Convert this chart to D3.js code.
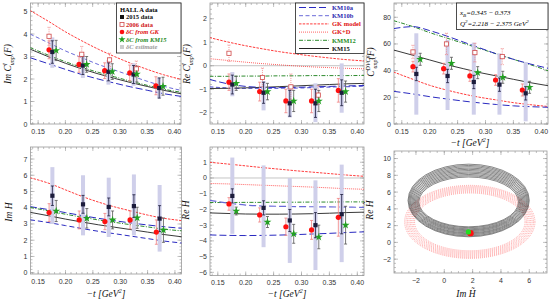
<!DOCTYPE html>
<html>
<head>
<meta charset="UTF-8">
<script src="https://d3js.org/d3.v7.min.js"></script>
<style>
  body { margin: 0; background: #fff; }
  svg { display: block; }
  .tl { font-family: "Liberation Sans", Arial, sans-serif; font-size: 7px; fill: #333; }
  .at { font-family: "Liberation Serif", "Times New Roman", serif; font-style: italic; font-size: 9.5px; fill: #111; }
  .leg { font-family: "Liberation Serif", "Times New Roman", serif; font-weight: bold; font-size: 6.5px; }
  .box { font-family: "Liberation Serif", "Times New Roman", serif; font-style: italic; font-size: 7px; }
</style>
</head>
<body>
<svg width="553" height="302"></svg>
<script>
// -t positions of the points
const t2015 = [0.176, 0.232, 0.279, 0.325, 0.372];
const tGK   = [0.170, 0.225, 0.272, 0.318, 0.366];
const tKM   = [0.183, 0.239, 0.286, 0.331, 0.379];
const t2006 = [0.170, 0.230, 0.281, 0.330];
const tCurve = [0.135, 0.17, 0.20, 0.23, 0.26, 0.29, 0.32, 0.35, 0.38, 0.415];

// Im C^I
const imC2015 = [3.2, 2.6, 2.32, 2.2, 1.6];
const imC2015Err = [0.5, 0.4, 0.4, 0.4, 0.45];
const imCBandLo = [2.5, 2.05, 1.75, 1.7, 1.15];
const imCBandHi = [3.85, 3.1, 2.85, 2.7, 2.05];
const imCGK = [3.3, 2.65, 2.37, 2.27, 1.7];
const imCGKErr = [0.4, 0.35, 0.35, 0.35, 0.4];
const imCKM = [3.27, 2.65, 2.33, 2.22, 1.68];
const imCKMErr = [0.45, 0.35, 0.35, 0.35, 0.4];
const imC2006 = [3.9, 3.1, 2.85, 2.45];
const imC2006Err = [0.4, 0.35, 0.3, 0.35];
const imCCurveGK   = [5.05, 4.55, 4.1, 3.7, 3.33, 3.0, 2.7, 2.43, 2.19, 1.97];
const imCCurveKM10b = [4.0, 3.6, 3.25, 2.95, 2.65, 2.4, 2.15, 1.9, 1.68, 1.48];
const imCCurveKMM12 = [3.4, 3.05, 2.77, 2.52, 2.3, 2.1, 1.9, 1.72, 1.55, 1.4];
const imCCurveKM15 = [3.33, 2.98, 2.7, 2.45, 2.23, 2.03, 1.84, 1.67, 1.5, 1.33];
const imCCurveKM10a = [2.95, 2.67, 2.43, 2.2, 2.0, 1.82, 1.65, 1.5, 1.35, 1.22];

// Re C^I
const reC2015 = [-0.8, -1.15, -1.6, -1.6, -1.15];
const reC2015Err = [0.4, 0.45, 0.55, 0.6, 0.55];
const reCBandLo = [-1.3, -1.9, -2.2, -2.4, -2.0];
const reCBandHi = [-0.27, -0.65, -0.83, -0.75, 0.1];
const reCGK = [-0.7, -1.1, -1.5, -1.5, -1.05];
const reCGKErr = [0.35, 0.4, 0.5, 0.5, 0.5];
const reCKM = [-0.75, -1.1, -1.5, -1.5, -1.1];
const reCKMErr = [0.3, 0.35, 0.45, 0.45, 0.45];
const reC2006 = [0.53, -0.5, -0.9, -1.25];
const reC2006Err = [0.35, 0.4, 0.55, 0.4];
const reCCurveGK   = [1.2, 1.0, 0.85, 0.72, 0.6, 0.5, 0.41, 0.33, 0.26, 0.2];
const reCCurveGKD  = [0.3, 0.22, 0.15, 0.09, 0.04, -0.01, -0.05, -0.08, -0.11, -0.13];
const reCCurveKMM12 = [-0.45, -0.45, -0.44, -0.44, -0.43, -0.43, -0.42, -0.42, -0.42, -0.41];
const reCCurveKM15 = [-0.97, -0.96, -0.94, -0.92, -0.89, -0.86, -0.83, -0.8, -0.77, -0.75];
const reCCurveKM10a = [-0.58, -0.78, -0.88, -0.92, -0.93, -0.92, -0.9, -0.88, -0.86, -0.84];
const reCCurveKM10b = [-0.9, -0.95, -0.97, -0.97, -0.96, -0.95, -0.93, -0.91, -0.89, -0.87];

// C^DVCS
const dv2015 = [37.5, 36, 31.5, 29.5, 23];
const dv2015Err = [5, 5, 5, 5, 5];
const dvBandLo = [7, 10.5, 7, 7, 2];
const dvBandHi = [68, 63, 61, 53, 46.5];
const dvGK = [43, 41.5, 36, 33, 25.5];
const dvGKErr = [4, 4, 4, 4, 4.5];
const dvKM = [48.5, 45.5, 38.5, 35, 27.5];
const dvKMErr = [4.5, 4.5, 4.5, 4.5, 4.5];
const dv2006 = [54, 60, 53.5, 50.5];
const dv2006Err = [5, 8, 7, 6];
const dvCurveKMM12 = [77.5, 73, 68.5, 64.5, 60.5, 56.5, 52.5, 48.5, 44.5, 39.5];
const dvCurveKM10b = [71.5, 73, 70, 66, 61.5, 57, 52.5, 48.5, 45, 41.5];
const dvCurveKM15 = [55.5, 51.5, 48, 44.5, 41.5, 38.5, 36, 33.5, 31, 28.5];
const dvCurveGK = [39, 33.5, 29, 25.5, 22.5, 20, 18, 16, 14.5, 13];
const dvCurveKM10a = [24.5, 22.5, 20.5, 18.8, 17.2, 15.8, 14.6, 13.6, 13, 12.5];

// Im H
const imH2015 = [4.74, 4.21, 4.05, 4.1, 3.33];
const imH2015Err = [0.6, 0.55, 0.55, 0.7, 0.8];
const imHBandLo = [3.0, 2.3, 2.2, 2.3, 1.3];
const imHBandHi = [6.5, 6.0, 5.85, 6.05, 5.4];
const imHGK = [3.7, 3.25, 3.15, 3.25, 2.5];
const imHGKErr = [0.55, 0.55, 0.5, 0.55, 0.75];
const imHKM = [3.8, 3.35, 3.25, 3.38, 2.62];
const imHKMErr = [0.65, 0.6, 0.55, 0.65, 0.75];
const imHCurveGK = [5.85, 5.5, 5.1, 4.7, 4.35, 4.05, 3.8, 3.55, 3.35, 3.2];
const imHCurveKM10b = [4.07, 3.88, 3.7, 3.52, 3.35, 3.2, 3.06, 2.94, 2.83, 2.73];
const imHCurveKMM12 = [4.02, 3.8, 3.6, 3.42, 3.25, 3.1, 2.95, 2.82, 2.68, 2.57];
const imHCurveKM15 = [3.72, 3.5, 3.3, 3.12, 2.95, 2.8, 2.65, 2.5, 2.35, 2.2];
const imHCurveKM10a = [3.26, 3.08, 2.9, 2.72, 2.55, 2.4, 2.25, 2.1, 1.95, 1.82];

// Re H
const reH2015 = [-1.14, -1.9, -2.7, -3.0, -2.3];
const reH2015Err = [0.45, 0.45, 0.7, 0.8, 1.25];
const reHBandLo = [-3.55, -4.4, -5.4, -5.85, -5.35];
const reHBandHi = [1.3, 0.8, 0.0, -0.15, 0.85];
const reHGK = [-1.65, -2.35, -3.1, -3.3, -2.5];
const reHGKErr = [0.4, 0.45, 0.55, 0.6, 1.2];
const reHKM = [-2.1, -2.8, -3.55, -3.75, -3.0];
const reHKMErr = [0.25, 0.35, 0.6, 0.75, 1.2];
const reHCurveGK = [1.0, 0.88, 0.77, 0.66, 0.56, 0.46, 0.37, 0.28, 0.19, 0.1];
const reHCurveGKD = [-0.35, -0.38, -0.42, -0.46, -0.5, -0.54, -0.58, -0.63, -0.68, -0.72];
const reHCurveKMM12 = [-1.56, -1.56, -1.55, -1.55, -1.54, -1.54, -1.53, -1.53, -1.52, -1.52];
const reHCurveKM10b = [-1.42, -1.6, -1.72, -1.78, -1.8, -1.82, -1.83, -1.84, -1.85, -1.87];
const reHCurveKM15 = [-2.22, -2.26, -2.29, -2.3, -2.3, -2.29, -2.27, -2.24, -2.2, -2.17];
const reHCurveKM10a = [-3.62, -3.65, -3.66, -3.65, -3.63, -3.6, -3.56, -3.52, -3.47, -3.42];

// Im Ht / Re Ht rings
const blackRingCx = 1.72;
const blackRingCy = [4.83, 4.85, 4.86, 4.88, 4.9, 4.92, 4.93, 4.95, 4.97, 4.98, 5.0];
const blackRingRx = [3.52, 3.6, 3.68, 3.76, 3.84, 3.92, 4.0, 4.08, 4.15, 4.22, 4.28];
const blackRingRy = [2.97, 3.1, 3.24, 3.38, 3.51, 3.65, 3.79, 3.92, 4.06, 4.2, 4.33];
const redRingCx = 1.8, redRingCy = 2.45;
const redRingRx = [3.9, 4.0, 4.1, 4.2, 4.3, 4.4, 4.5, 4.6];
const redRingRy = [3.45, 3.58, 3.71, 3.84, 3.97, 4.1, 4.23, 4.35];
const htGK = [1.85, 1.1];
const htKM = [1.7, 1.25];

const C = {
  red: "#ff3b3b", blueA: "#2a2ac0", blueB: "#6a6ad8", green: "#2e8b2e", black: "#222",
  lav: "#cfcfea", sq: "#1c1c3c", gkDot: "#ff1010", gkErr: "#f08080", star: "#22a022", starErr: "#555",
  old: "#d04a4a"
};

const svg = d3.select("svg");
let clipN = 0;

function makePanel(p) {
  const x = d3.scaleLinear().domain(p.xd).range([p.left, p.right]);
  const y = d3.scaleLinear().domain(p.yd).range([p.bottom, p.top]);
  const g = svg.append("g");
  const id = "clip" + (clipN++);
  svg.append("clipPath").attr("id", id).append("rect")
    .attr("x", p.left).attr("y", p.top)
    .attr("width", p.right - p.left).attr("height", p.bottom - p.top);
  const tk = g.append("g").attr("stroke", "#999").attr("stroke-width", 0.6);
  const inX = v => v >= p.xd[0] && v <= p.xd[1];
  const inY = v => v >= p.yd[0] && v <= p.yd[1];
  p.xMinor.filter(inX).forEach(v => {
    tk.append("line").attr("x1", x(v)).attr("x2", x(v)).attr("y1", p.bottom).attr("y2", p.bottom - 2);
    tk.append("line").attr("x1", x(v)).attr("x2", x(v)).attr("y1", p.top).attr("y2", p.top + 2);
  });
  p.yMinor.filter(inY).forEach(v => {
    tk.append("line").attr("y1", y(v)).attr("y2", y(v)).attr("x1", p.left).attr("x2", p.left + 2);
    tk.append("line").attr("y1", y(v)).attr("y2", y(v)).attr("x1", p.right).attr("x2", p.right - 2);
  });
  p.xMajor.forEach(v => {
    tk.append("line").attr("x1", x(v)).attr("x2", x(v)).attr("y1", p.bottom).attr("y2", p.bottom - 4);
    tk.append("line").attr("x1", x(v)).attr("x2", x(v)).attr("y1", p.top).attr("y2", p.top + 4);
    g.append("text").attr("class", "tl").attr("x", x(v)).attr("y", p.bottom + 9.5)
      .attr("text-anchor", "middle").text(p.xf(v));
  });
  p.yMajor.forEach(v => {
    tk.append("line").attr("y1", y(v)).attr("y2", y(v)).attr("x1", p.left).attr("x2", p.left + 4);
    tk.append("line").attr("y1", y(v)).attr("y2", y(v)).attr("x1", p.right).attr("x2", p.right - 4);
    g.append("text").attr("class", "tl").attr("x", p.left - 3).attr("y", y(v) + 2.5)
      .attr("text-anchor", "end").text(p.yf(v));
  });
  g.append("rect").attr("x", p.left).attr("y", p.top)
    .attr("width", p.right - p.left).attr("height", p.bottom - p.top)
    .attr("fill", "none").attr("stroke", "#999").attr("stroke-width", 0.8);
  const plot = g.append("g").attr("clip-path", `url(#${id})`);
  return { x, y, g, plot, p };
}

function curve(P, vals, color, dash, w) {
  const line = d3.line().x((d, i) => P.x(tCurve[i])).y(d => P.y(d)).curve(d3.curveMonotoneX);
  P.plot.append("path").datum(vals).attr("d", line).attr("fill", "none")
    .attr("stroke", color).attr("stroke-width", w || 1).attr("stroke-dasharray", dash || null);
}

function zeroLine(P) {
  P.plot.append("line").attr("x1", P.p.left).attr("x2", P.p.right)
    .attr("y1", P.y(0)).attr("y2", P.y(0)).attr("stroke", "#aaa").attr("stroke-width", 0.7);
}

function bands(P, ts, lo, hi) {
  P.plot.selectAll(null).data(ts).join("rect")
    .attr("x", d => P.x(d) - 2).attr("width", 4)
    .attr("y", (d, i) => P.y(hi[i])).attr("height", (d, i) => P.y(lo[i]) - P.y(hi[i]))
    .attr("fill", C.lav);
}

function errBars(P, ts, v, e, color, dash) {
  const g = P.plot.append("g").attr("stroke", color).attr("stroke-width", 0.8)
    .attr("stroke-dasharray", dash || null);
  ts.forEach((t, i) => {
    const xx = P.x(t), a = P.y(v[i] + e[i]), b = P.y(v[i] - e[i]);
    g.append("line").attr("x1", xx).attr("x2", xx).attr("y1", a).attr("y2", b);
    g.append("line").attr("x1", xx - 1.5).attr("x2", xx + 1.5).attr("y1", a).attr("y2", a).attr("stroke-dasharray", null);
    g.append("line").attr("x1", xx - 1.5).attr("x2", xx + 1.5).attr("y1", b).attr("y2", b).attr("stroke-dasharray", null);
  });
}

function squares(P, ts, v, fill, stroke, s) {
  P.plot.selectAll(null).data(ts).join("rect")
    .attr("x", d => P.x(d) - s / 2).attr("y", (d, i) => P.y(v[i]) - s / 2)
    .attr("width", s).attr("height", s)
    .attr("fill", fill).attr("stroke", stroke).attr("stroke-width", stroke ? 0.8 : 0);
}

function dots(P, ts, v) {
  P.plot.selectAll(null).data(ts).join("circle")
    .attr("cx", d => P.x(d)).attr("cy", (d, i) => P.y(v[i])).attr("r", 2.6).attr("fill", C.gkDot);
}

function stars(P, ts, v) {
  const sym = d3.symbol(d3.symbolStar).size(20)();
  P.plot.selectAll(null).data(ts).join("path")
    .attr("d", sym).attr("transform", (d, i) => `translate(${P.x(d)},${P.y(v[i])})`)
    .attr("fill", C.star);
}

function dataSet(P, d) {
  bands(P, t2015, d.lo, d.hi);
  if (d.old) errBars(P, t2006, d.old, d.oldErr, C.gkErr, "1,1");
  errBars(P, tGK, d.gk, d.gkErr, C.gkErr);
  errBars(P, tKM, d.km, d.kmErr, C.starErr);
  errBars(P, t2015, d.v, d.err, C.sq);
  if (d.old) squares(P, t2006, d.old, "#fff", C.old, 4.2);
  dots(P, tGK, d.gk);
  squares(P, t2015, d.v, C.sq, null, 4.2);
  stars(P, tKM, d.km);
}

function yTitle(x, y, build) {
  const t = svg.append("text").attr("class", "at")
    .attr("transform", `translate(${x},${y}) rotate(-90)`).attr("text-anchor", "middle");
  build(t);
}
function xTitle(x, y) {
  const t = svg.append("text").attr("class", "at").attr("x", x).attr("y", y).attr("text-anchor", "middle");
  t.append("tspan").text("\u2212t [GeV");
  t.append("tspan").attr("dy", -4).attr("font-size", 6.5).text("2");
  t.append("tspan").attr("dy", 4).text("]");
}
function cTitle(t, pre, sup) {
  t.append("tspan").text(pre);
  t.append("tspan").attr("dy", -4).attr("font-size", 6).text(sup);
  t.append("tspan").attr("dx", sup.length > 1 ? -13 : -2).attr("dy", 7).attr("font-size", 6).text("unp");
  t.append("tspan").attr("dy", -3).text("(F)");
}

const tFmt = d3.format(".2f");
const xMajor = [0.15, 0.20, 0.25, 0.30, 0.35, 0.40];
const xMinor = d3.range(0.13, 0.42, 0.01);
const xd = [0.136, 0.412];

// Panel 1
const P1 = makePanel({ left: 30.5, right: 181, top: 3, bottom: 124, xd, yd: [0, 5.38],
  xMajor, xMinor, yMajor: d3.range(0, 6, 1), yMinor: d3.range(0, 5.4, 0.2), xf: tFmt, yf: d3.format("d") });
curve(P1, imCCurveGK, C.red, "2.5,1.2");
curve(P1, imCCurveKM10b, C.blueB, "4,2.5");
curve(P1, imCCurveKMM12, C.green, "4,1.5,1,1.5");
curve(P1, imCCurveKM15, C.black, null, 0.9);
curve(P1, imCCurveKM10a, C.blueA, "7,3");
dataSet(P1, { v: imC2015, err: imC2015Err, lo: imCBandLo, hi: imCBandHi, gk: imCGK, gkErr: imCGKErr,
  km: imCKM, kmErr: imCKMErr, old: imC2006, oldErr: imC2006Err });
yTitle(11, 64, t => cTitle(t, "Im C", "I"));

// Panel 2
const P2 = makePanel({ left: 210, right: 364, top: 3, bottom: 124, xd, yd: [-2.48, 2.67],
  xMajor, xMinor, yMajor: d3.range(-2, 3, 1), yMinor: d3.range(-2.4, 2.7, 0.2), xf: tFmt, yf: d3.format("d") });
zeroLine(P2);
curve(P2, reCCurveGK, C.red, "2.5,1.2");
curve(P2, reCCurveGKD, C.red, "0.8,1.2");
curve(P2, reCCurveKMM12, C.green, "4,1.5,1,1.5");
curve(P2, reCCurveKM10b, C.blueB, "4,2.5", 1.2);
curve(P2, reCCurveKM15, C.black, null, 0.9);
curve(P2, reCCurveKM10a, C.blueA, "7,3");
dataSet(P2, { v: reC2015, err: reC2015Err, lo: reCBandLo, hi: reCBandHi, gk: reCGK, gkErr: reCGKErr,
  km: reCKM, kmErr: reCKMErr, old: reC2006, oldErr: reC2006Err });
yTitle(190, 64, t => cTitle(t, "Re C", "I"));

// Panel 3
const P3 = makePanel({ left: 394, right: 548, top: 3, bottom: 124, xd, yd: [0, 90.7],
  xMajor, xMinor, yMajor: d3.range(0, 81, 20), yMinor: d3.range(0, 91, 5), xf: tFmt, yf: d3.format("d") });
curve(P3, dvCurveKMM12, C.green, "4,1.5,1,1.5");
curve(P3, dvCurveKM10b, C.blueA, "7,3");
curve(P3, dvCurveKM15, C.black, null, 0.9);
curve(P3, dvCurveGK, C.red, "2.5,1.2");
curve(P3, dvCurveKM10a, C.blueA, "7,3");
dataSet(P3, { v: dv2015, err: dv2015Err, lo: dvBandLo, hi: dvBandHi, gk: dvGK, gkErr: dvGKErr,
  km: dvKM, kmErr: dvKMErr, old: dv2006, oldErr: dv2006Err });
yTitle(374, 62, t => cTitle(t, "C", "DVCS"));
xTitle(470, 146);

// Panel 4
const P4 = makePanel({ left: 30.5, right: 181.5, top: 147, bottom: 274, xd, yd: [-0.08, 7.74],
  xMajor, xMinor, yMajor: d3.range(0, 8, 1), yMinor: d3.range(0, 7.8, 0.2), xf: tFmt, yf: d3.format("d") });
curve(P4, imHCurveGK, C.red, "2.5,1.2");
curve(P4, imHCurveKM10b, C.blueA, "7,3");
curve(P4, imHCurveKMM12, C.green, "4,1.5,1,1.5");
curve(P4, imHCurveKM15, C.black, null, 0.9);
curve(P4, imHCurveKM10a, C.blueA, "5,3");
dataSet(P4, { v: imH2015, err: imH2015Err, lo: imHBandLo, hi: imHBandHi, gk: imHGK, gkErr: imHGKErr,
  km: imHKM, kmErr: imHKMErr });
yTitle(12, 212, t => t.text("Im H"));
xTitle(106, 297);

// Panel 5
const P5 = makePanel({ left: 210, right: 364, top: 147, bottom: 275.5, xd, yd: [-6.2, 1.97],
  xMajor, xMinor, yMajor: d3.range(-6, 2, 1), yMinor: d3.range(-6.2, 2, 0.2), xf: tFmt, yf: d3.format("d") });
zeroLine(P5);
curve(P5, reHCurveGK, C.red, "2.5,1.2");
curve(P5, reHCurveGKD, C.red, "0.8,1.2");
curve(P5, reHCurveKMM12, C.green, "4,1.5,1,1.5");
curve(P5, reHCurveKM10b, C.blueB, "7,3", 1.2);
curve(P5, reHCurveKM15, C.black, null, 0.9);
curve(P5, reHCurveKM10a, C.blueA, "7,3");
dataSet(P5, { v: reH2015, err: reH2015Err, lo: reHBandLo, hi: reHBandHi, gk: reHGK, gkErr: reHGKErr,
  km: reHKM, kmErr: reHKMErr });
yTitle(189, 210, t => t.text("Re H"));
xTitle(287, 297);

// Panel 6
const P6 = makePanel({ left: 394, right: 547, top: 151, bottom: 273, xd: [-3.55, 7.25], yd: [-3.65, 10.9],
  xMajor: d3.range(-2, 7, 2), xMinor: d3.range(-3.5, 7.3, 0.5), yMajor: d3.range(-2, 11, 2),
  yMinor: d3.range(-3.5, 11, 0.5), xf: d3.format("d"), yf: d3.format("d") });
P6.plot.selectAll(null).data(redRingRx).join("ellipse")
  .attr("cx", P6.x(redRingCx)).attr("cy", P6.y(redRingCy))
  .attr("rx", d => P6.x(redRingCx + d) - P6.x(redRingCx))
  .attr("ry", (d, i) => P6.y(redRingCy) - P6.y(redRingCy + redRingRy[i]))
  .attr("fill", "none").attr("stroke", "#ff5a5a").attr("stroke-width", 0.7)
  .attr("stroke-dasharray", "1,1").attr("opacity", 0.75);
P6.plot.selectAll(null).data(blackRingRx).join("ellipse")
  .attr("cx", P6.x(blackRingCx)).attr("cy", (d, i) => P6.y(blackRingCy[i]))
  .attr("rx", d => P6.x(blackRingCx + d) - P6.x(blackRingCx))
  .attr("ry", (d, i) => P6.y(blackRingCy[i]) - P6.y(blackRingCy[i] + blackRingRy[i]))
  .attr("fill", "none").attr("stroke", "#111").attr("stroke-width", 0.6).attr("opacity", 0.85);
P6.plot.append("circle").attr("cx", P6.x(htGK[0])).attr("cy", P6.y(htGK[1])).attr("r", 3.2).attr("fill", "#ff1010");
P6.plot.append("circle").attr("cx", P6.x(htKM[0])).attr("cy", P6.y(htKM[1])).attr("r", 2.6).attr("fill", "#22dd22");
yTitle(373, 210, t => t.text("Re H\u0303"));
svg.append("text").attr("class", "at").attr("x", 466).attr("y", 297).attr("text-anchor", "middle").text("Im H\u0303");

// Legend 1
const L1 = svg.append("g");
L1.append("rect").attr("x", 116.5).attr("y", 3).attr("width", 64.5).attr("height", 50)
  .attr("fill", "#fff").attr("stroke", "#222").attr("stroke-width", 0.8);
const leg1 = [
  { label: "2015 data", color: "#111", m: "sq" },
  { label: "2006 data", color: "#d02020", m: "osq" },
  { label: "\u03b4C from GK", color: "#e01010", m: "dot" },
  { label: "\u03b4C from KM15", color: "#1d8a1d", m: "star" },
  { label: "\u03b4C estimate", color: "#999", m: "gray" }
];
L1.append("text").attr("class", "leg").attr("x", 120).attr("y", 12).attr("font-size", 7).text("HALL A data");
leg1.forEach((d, i) => {
  const yy = 17 + i * 7.5, xx = 122;
  if (d.m === "sq") L1.append("rect").attr("x", xx - 2).attr("y", yy - 2).attr("width", 4).attr("height", 4).attr("fill", "#111");
  if (d.m === "osq") L1.append("rect").attr("x", xx - 2).attr("y", yy - 2).attr("width", 4).attr("height", 4).attr("fill", "#fff").attr("stroke", C.old).attr("stroke-width", 0.8);
  if (d.m === "dot") L1.append("circle").attr("cx", xx).attr("cy", yy).attr("r", 2.3).attr("fill", C.gkDot);
  if (d.m === "star") L1.append("path").attr("d", d3.symbol(d3.symbolStar).size(16)()).attr("transform", `translate(${xx},${yy})`).attr("fill", C.star);
  if (d.m === "gray") L1.append("rect").attr("x", xx - 2).attr("y", yy - 2).attr("width", 4).attr("height", 4).attr("fill", "#ccc");
  L1.append("text").attr("class", "leg").attr("x", 126).attr("y", yy + 2.3).attr("fill", d.color)
    .attr("font-style", i >= 2 ? "italic" : null).text(d.label);
});

// Legend 2
const L2 = svg.append("g");
L2.append("rect").attr("x", 295.5).attr("y", 3).attr("width", 68.5).attr("height", 50.5)
  .attr("fill", "#fff").attr("stroke", "#222").attr("stroke-width", 0.8);
const leg2 = [
  { label: "KM10a", stroke: C.blueA, dash: "7,3", tc: "#2a2ab0" },
  { label: "KM10b", stroke: C.blueB, dash: "4,2.5", tc: "#2a2ab0" },
  { label: "GK model", stroke: C.red, dash: "2.5,1.2", tc: "#e01010" },
  { label: "GK+D", stroke: C.red, dash: "0.8,1.2", tc: "#e01010" },
  { label: "KMM12", stroke: C.green, dash: "4,1.5,1,1.5", tc: "#1d8a1d" },
  { label: "KM15", stroke: C.black, dash: null, tc: "#111" }
];
leg2.forEach((d, i) => {
  const yy = 7.5 + i * 8.2;
  L2.append("line").attr("x1", 299).attr("x2", 329).attr("y1", yy).attr("y2", yy)
    .attr("stroke", d.stroke).attr("stroke-width", 1).attr("stroke-dasharray", d.dash);
  L2.append("text").attr("class", "leg").attr("x", 332).attr("y", yy + 2.3).attr("fill", d.tc).text(d.label);
});

// Kinematics box
const K = svg.append("g");
K.append("rect").attr("x", 456.5).attr("y", 3).attr("width", 91.5).attr("height", 26.5)
  .attr("fill", "#fff").attr("stroke", "#222").attr("stroke-width", 0.8);
const k1 = K.append("text").attr("class", "box").attr("x", 460).attr("y", 15);
k1.append("tspan").text("x");
k1.append("tspan").attr("dy", 2).attr("font-size", 5).text("B");
k1.append("tspan").attr("dy", -2).text("=0.345 \u2212 0.373");
const k2 = K.append("text").attr("class", "box").attr("x", 460).attr("y", 26);
k2.append("tspan").text("Q");
k2.append("tspan").attr("dy", -3).attr("font-size", 5).text("2");
k2.append("tspan").attr("dy", 3).text("=2.218 \u2212 2.375 GeV");
k2.append("tspan").attr("dy", -3).attr("font-size", 5).text("2");
</script>
</body>
</html>
